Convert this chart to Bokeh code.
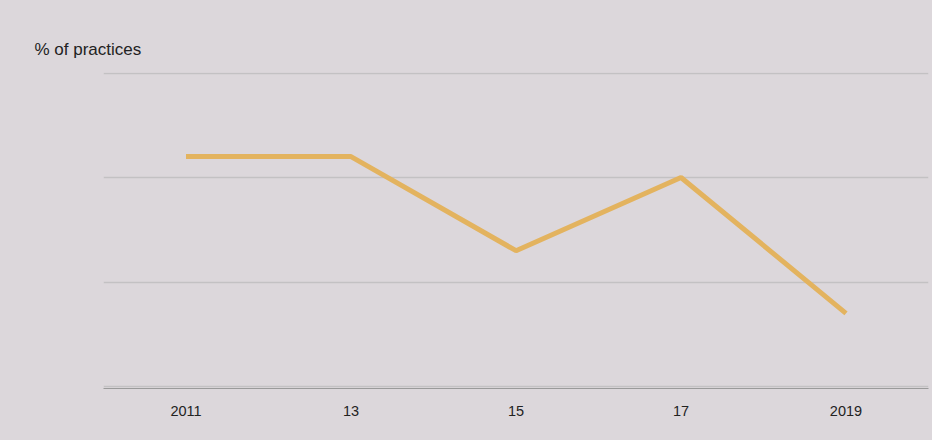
from bokeh.plotting import figure
from bokeh.models import FixedTicker, Range1d
from bokeh.embed import file_html
from bokeh.resources import INLINE

years = [2011, 2013, 2015, 2017, 2019]
share = [22.0, 22.0, 13.0, 20.0, 7.0]
tick_labels = {2011: "2011", 2013: "13", 2015: "15", 2017: "17", 2019: "2019"}
grid_ticks = [0, 10, 20, 30]

BG = "#dcd7db"

p = figure(width=932, height=440, output_backend="svg", toolbar_location=None,
           x_range=Range1d(2010, 2020), y_range=Range1d(-0.19, 30.05),
           background_fill_color=BG, border_fill_color=BG, outline_line_color=None,
           min_border_left=103, min_border_right=4, min_border_top=72, min_border_bottom=52)
p.styles = {"background-color": BG}

p.title.text = "% of practices"
p.title.align = "left"
p.title.offset = -69
p.title.text_font = "Liberation Sans"
p.title.text_font_size = "17px"
p.title.text_font_style = "normal"
p.title.text_color = "#222222"
p.title.standoff = 28

p.line(years, share, line_color="#e3b35f", line_width=5)

p.xaxis.ticker = FixedTicker(ticks=years)
p.xaxis.major_label_overrides = tick_labels
p.xaxis.major_tick_line_color = None
p.xaxis.minor_tick_line_color = None
p.xaxis.axis_line_color = "#9a9a9a"
p.xaxis.axis_line_width = 1.2
p.xaxis.major_label_text_font = "Liberation Sans"
p.xaxis.major_label_text_font_size = "14.5px"
p.xaxis.major_label_text_color = "#222222"
p.xaxis.major_label_standoff = 11

p.yaxis.ticker = FixedTicker(ticks=grid_ticks)
p.yaxis.visible = False
p.xgrid.grid_line_color = None
p.ygrid.ticker = FixedTicker(ticks=grid_ticks)
p.ygrid.grid_line_color = "#c3c1c3"
p.ygrid.grid_line_width = 1.5

open("out.html", "w").write(file_html(p, INLINE))
